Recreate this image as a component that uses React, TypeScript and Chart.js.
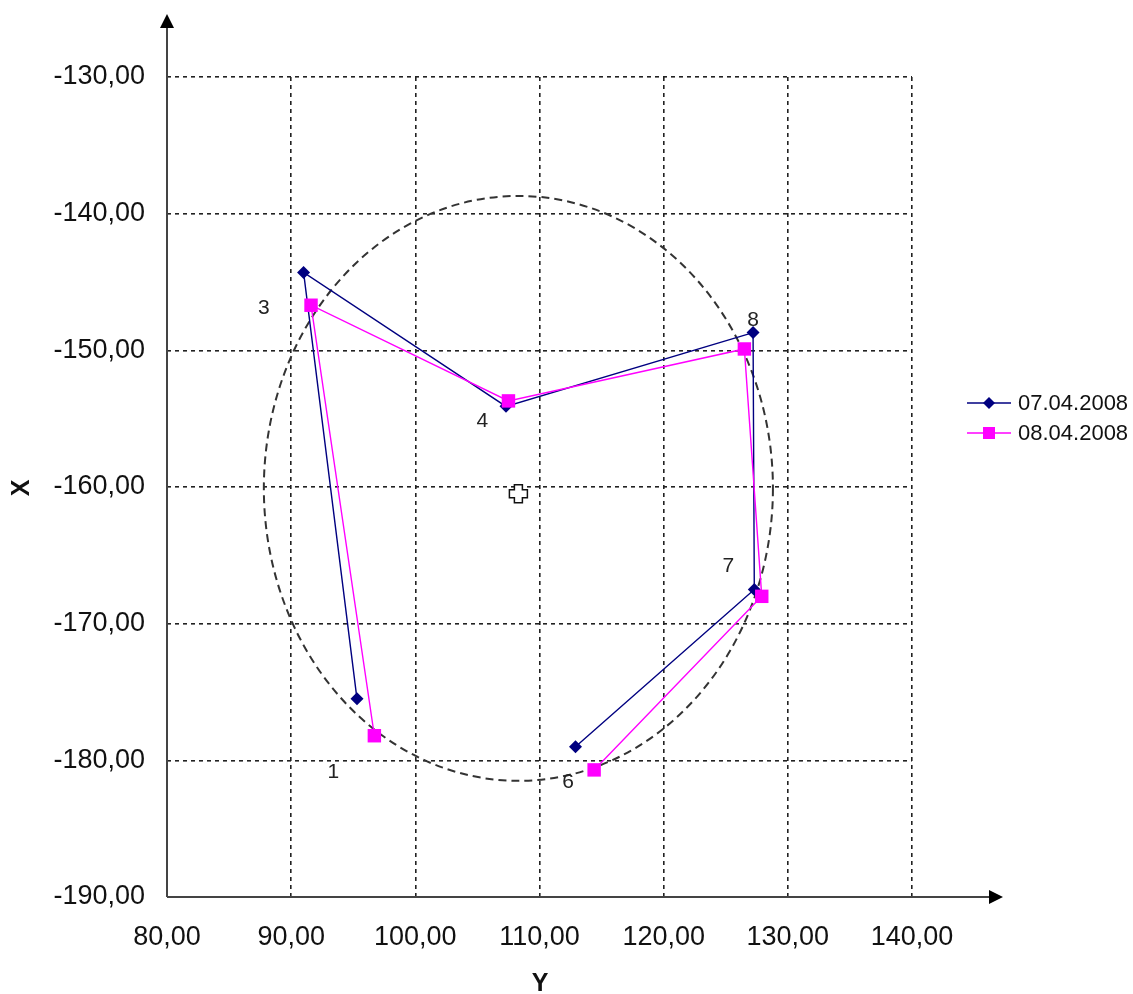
import React, { useEffect, useRef } from "react";
import { Chart, registerables } from "chart.js";

Chart.register(...registerables);

// ---- Data ----
const SERIES1_NAME = "07.04.2008";
const SERIES1_X = [95.3, 91.0, 107.3, 127.2, 127.3, 112.9];
const SERIES1_Y = [-175.5, -144.3, -154.1, -148.7, -167.5, -179.0];

const SERIES2_NAME = "08.04.2008";
const SERIES2_X = [96.7, 91.6, 107.5, 126.5, 127.9, 114.4];
const SERIES2_Y = [-178.2, -146.7, -153.7, -149.9, -168.0, -180.7];

const POINT_NAMES = ["1", "3", "4", "8", "7", "6"];
const POINT_NAME_X = [93.4, 87.8, 105.4, 127.2, 125.2, 112.3];
const POINT_NAME_Y = [-180.9, -146.9, -155.2, -147.8, -165.8, -181.6];

const CENTER_X = 108.3;
const CENTER_Y = -160.5;

const ELLIPSE_CX = 108.3;
const ELLIPSE_CY = -160.1;
const ELLIPSE_RX = 20.5;
const ELLIPSE_RY = 21.4;

const X_TICK_VALUES = [80, 90, 100, 110, 120, 130, 140];
const X_TICK_LABELS = ["80,00", "90,00", "100,00", "110,00", "120,00", "130,00", "140,00"];
const Y_TICK_VALUES = [-190, -180, -170, -160, -150, -140, -130];
const Y_TICK_LABELS = ["-190,00", "-180,00", "-170,00", "-160,00", "-150,00", "-140,00", "-130,00"];

const X_TITLE = "Y";
const Y_TITLE = "X";

const NAVY = "#000080";
const MAGENTA = "#FF00FF";
const FONT = '"Liberation Sans", Arial, sans-serif';

const overlayPlugin = {
  id: "overlay",
  beforeDatasetsDraw(chart: any) {
    const { ctx, scales } = chart;
    const xs = scales.x;
    const ys = scales.y;
    // ellipse
    const cx = xs.getPixelForValue(ELLIPSE_CX);
    const cy = ys.getPixelForValue(ELLIPSE_CY);
    const rx = Math.abs(xs.getPixelForValue(ELLIPSE_CX + ELLIPSE_RX) - cx);
    const ry = Math.abs(ys.getPixelForValue(ELLIPSE_CY + ELLIPSE_RY) - cy);
    ctx.save();
    ctx.strokeStyle = "#333";
    ctx.lineWidth = 2;
    ctx.setLineDash([8, 5]);
    ctx.beginPath();
    ctx.ellipse(cx, cy, rx, ry, 0, 0, Math.PI * 2);
    ctx.stroke();
    ctx.restore();

    // point names
    ctx.save();
    ctx.fillStyle = "#222";
    ctx.font = `21px ${FONT}`;
    ctx.textAlign = "center";
    ctx.textBaseline = "middle";
    POINT_NAMES.forEach((n, i) => {
      ctx.fillText(n, xs.getPixelForValue(POINT_NAME_X[i]), ys.getPixelForValue(POINT_NAME_Y[i]));
    });
    ctx.restore();

    // center marker (open plus)
    const px = xs.getPixelForValue(CENTER_X);
    const py = ys.getPixelForValue(CENTER_Y);
    const h = 9;
    const a = 4;
    ctx.save();
    ctx.fillStyle = "#fff";
    ctx.strokeStyle = "#111";
    ctx.lineWidth = 1.5;
    ctx.beginPath();
    ctx.moveTo(px - a, py - h);
    ctx.lineTo(px + a, py - h);
    ctx.lineTo(px + a, py - a);
    ctx.lineTo(px + h, py - a);
    ctx.lineTo(px + h, py + a);
    ctx.lineTo(px + a, py + a);
    ctx.lineTo(px + a, py + h);
    ctx.lineTo(px - a, py + h);
    ctx.lineTo(px - a, py + a);
    ctx.lineTo(px - h, py + a);
    ctx.lineTo(px - h, py - a);
    ctx.lineTo(px - a, py - a);
    ctx.closePath();
    ctx.fill();
    ctx.stroke();
    ctx.restore();
  },
  afterDraw(chart: any) {
    const { ctx, chartArea } = chart;
    const { left, bottom } = chartArea;
    ctx.save();
    ctx.strokeStyle = "#444";
    ctx.fillStyle = "#000";
    ctx.lineWidth = 2;
    // y axis with arrow
    ctx.beginPath();
    ctx.moveTo(left, bottom);
    ctx.lineTo(left, 26);
    ctx.stroke();
    ctx.beginPath();
    ctx.moveTo(left, 14);
    ctx.lineTo(left - 7, 28);
    ctx.lineTo(left + 7, 28);
    ctx.closePath();
    ctx.fill();
    // x axis with arrow
    ctx.beginPath();
    ctx.moveTo(left, bottom);
    ctx.lineTo(990, bottom);
    ctx.stroke();
    ctx.beginPath();
    ctx.moveTo(1003, bottom);
    ctx.lineTo(989, bottom - 7);
    ctx.lineTo(989, bottom + 7);
    ctx.closePath();
    ctx.fill();
    ctx.restore();

    // axis titles
    ctx.save();
    ctx.fillStyle = "#111";
    ctx.font = `bold 25px ${FONT}`;
    ctx.textAlign = "center";
    ctx.textBaseline = "middle";
    ctx.fillText(X_TITLE, 540, 984);
    ctx.translate(22, 488);
    ctx.rotate(-Math.PI / 2);
    ctx.fillText(Y_TITLE, 0, 0);
    ctx.restore();

    // legend
    const items = [
      { name: SERIES1_NAME, color: NAVY, style: "diamond", y: 403 },
      { name: SERIES2_NAME, color: MAGENTA, style: "square", y: 433 },
    ];
    ctx.save();
    items.forEach((it) => {
      ctx.strokeStyle = it.color;
      ctx.fillStyle = it.color;
      ctx.lineWidth = 1.5;
      ctx.beginPath();
      ctx.moveTo(967, it.y);
      ctx.lineTo(1011, it.y);
      ctx.stroke();
      ctx.beginPath();
      if (it.style === "diamond") {
        ctx.moveTo(989, it.y - 6);
        ctx.lineTo(995, it.y);
        ctx.lineTo(989, it.y + 6);
        ctx.lineTo(983, it.y);
        ctx.closePath();
      } else {
        ctx.rect(983, it.y - 6, 12, 12);
      }
      ctx.fill();
      ctx.fillStyle = "#111";
      ctx.font = `22px ${FONT}`;
      ctx.textAlign = "left";
      ctx.textBaseline = "middle";
      ctx.fillText(it.name, 1018, it.y + 1);
    });
    ctx.restore();
  },
};

export default function App() {
  const ref = useRef<HTMLCanvasElement | null>(null);
  useEffect(() => {
    if (!ref.current) return;
    const s1 = SERIES1_X.map((x, i) => ({ x, y: SERIES1_Y[i] }));
    const s2 = SERIES2_X.map((x, i) => ({ x, y: SERIES2_Y[i] }));
    const chart = new Chart(ref.current, {
      type: "scatter",
      data: {
        datasets: [
          {
            label: SERIES1_NAME,
            data: s1,
            showLine: true,
            borderColor: NAVY,
            backgroundColor: NAVY,
            borderWidth: 1.4,
            pointStyle: "rectRot",
            pointRadius: 6.5,
            pointBorderWidth: 0,
            order: 1,
          },
          {
            label: SERIES2_NAME,
            data: s2,
            showLine: true,
            borderColor: MAGENTA,
            backgroundColor: MAGENTA,
            borderWidth: 1.4,
            pointStyle: "rect",
            pointRadius: 9.5,
            pointBorderWidth: 0,
            order: 0,
          },
        ],
      },
      options: {
        animation: false,
        responsive: false,
        events: [],
        layout: { padding: { left: 0, top: 77, right: 221, bottom: 0 } },
        plugins: { legend: { display: false }, tooltip: { enabled: false } },
        scales: {
          x: {
            type: "linear",
            min: 80,
            max: 140,
            afterBuildTicks: (scale: any) => {
              scale.ticks = X_TICK_VALUES.map((v) => ({ value: v }));
            },
            afterFit: (scale: any) => {
              scale.height = 97;
            },
            ticks: {
              autoSkip: false,
              maxRotation: 0,
              padding: 24,
              color: "#111",
              font: { family: FONT, size: 27 },
              callback: (v: any) => {
                const i = X_TICK_VALUES.indexOf(Number(v));
                return i >= 0 ? X_TICK_LABELS[i] : "";
              },
            },
            grid: {
              color: "#222",
              lineWidth: 1.6,
              drawTicks: false,
            },
            border: { display: false, dash: [4, 4] },
          },
          y: {
            type: "linear",
            min: -190,
            max: -130,
            afterBuildTicks: (scale: any) => {
              scale.ticks = Y_TICK_VALUES.map((v) => ({ value: v }));
            },
            afterFit: (scale: any) => {
              scale.width = 167;
            },
            ticks: {
              autoSkip: false,
              padding: 22,
              color: "#111",
              font: { family: FONT, size: 27 },
              callback: (v: any) => {
                const i = Y_TICK_VALUES.indexOf(Number(v));
                return i >= 0 ? Y_TICK_LABELS[i] : "";
              },
            },
            grid: {
              color: "#222",
              lineWidth: 1.6,
              drawTicks: false,
            },
            border: { display: false, dash: [4, 4] },
          },
        },
      },
      plugins: [overlayPlugin],
    } as any);
    return () => chart.destroy();
  }, []);
  return (
    <div style={{ position: "absolute", left: 0, top: 0, width: 1133, height: 994, background: "#fff" }}>
      <canvas ref={ref} width={1133} height={994} style={{ width: 1133, height: 994, display: "block" }} />
    </div>
  );
}
